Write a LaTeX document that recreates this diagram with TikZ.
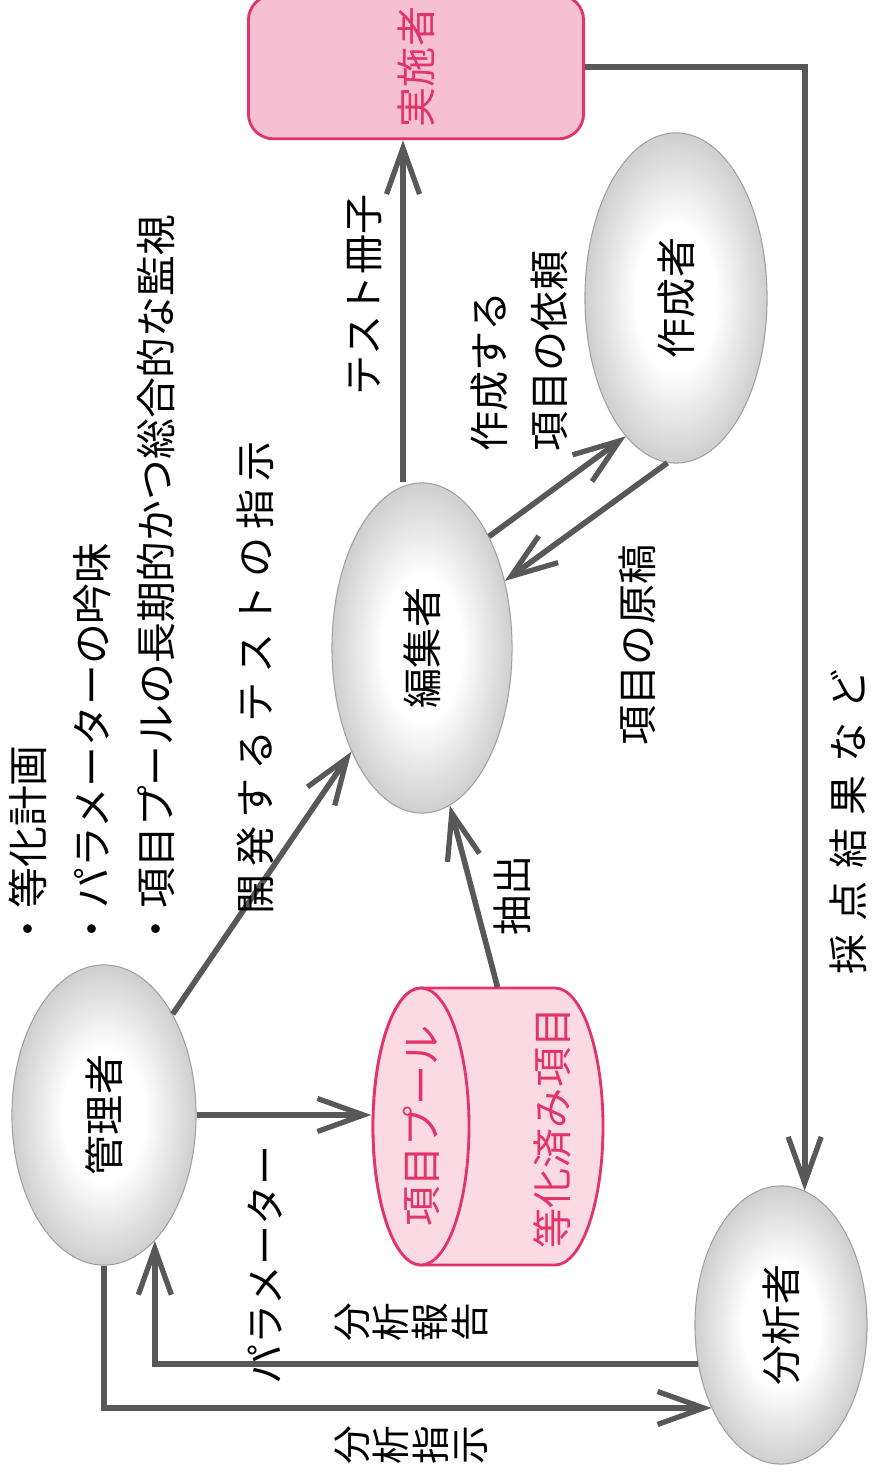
\documentclass[tikz,border=0pt]{standalone}
\usepackage{fontspec}
\usepackage{graphicx}
\setmainfont{Noto Sans CJK JP}
\newfontfamily\widejp[LetterSpace=20]{Noto Sans CJK JP}
\newfontfamily\widerjp[LetterSpace=32]{Noto Sans CJK JP}
\usetikzlibrary{shapes.geometric, arrows.meta, calc}
\definecolor{linegray}{RGB}{88,88,88}
\definecolor{eggedge}{RGB}{160,160,160}
\definecolor{eggmid}{RGB}{200,200,200}
\definecolor{poolpink}{RGB}{251,218,228}
\definecolor{boxpink}{RGB}{246,192,210}
\definecolor{rosered}{RGB}{226,52,104}
\pgfdeclareradialshading{egg}{\pgfpoint{0bp}{0bp}}{color(0bp)=(white); color(11bp)=(white); color(27bp)=(eggmid); color(36bp)=(eggedge); color(50bp)=(eggedge)}

\begin{document}
\begin{tikzpicture}[x=0.01cm, y=-0.01cm,
  every node/.style={font=\fontsize{11.4}{17}\selectfont},
  actor/.style={ellipse, shade, shading=egg, draw=eggedge, line width=0.3pt, inner sep=0pt},
  flow/.style={draw=linegray, line width=1.6pt, -{Straight Barb[length=4.6mm, width=3.3mm, line width=1.5pt]}},
  side/.style={rotate=90, inner sep=0pt}]
  \useasboundingbox (0,0) rectangle (873,1477);

  % Roles
  \node[rectangle, rounded corners=2.5mm, draw=rosered, fill=boxpink, line width=0.8pt,
        minimum width=3.35cm, minimum height=1.23cm, text=rosered] (jisshi) at (416,67) {\rotatebox{90}{実施者}};
  \node[actor, minimum width=1.82cm, minimum height=3.3cm] (sakusei) at (676,298) {\rotatebox{90}{作成者}};
  \node[actor, minimum width=1.8cm, minimum height=3.3cm] (henshu) at (422,648) {\rotatebox{90}{編集者}};
  \node[actor, minimum width=1.84cm, minimum height=3.0cm] (kanri) at (104,1115) {\rotatebox{90}{管理者}};
  \node[actor, minimum width=1.72cm, minimum height=2.78cm] (bunseki) at (781,1325) {\rotatebox{90}{分析者}};

  % Item pool
  \node[minimum width=2.31cm, minimum height=2.77cm, inner sep=0pt] (pool) at (487.5,1126.5) {};
  \draw[draw=rosered, fill=poolpink, line width=0.8pt] (421,988) -- (555,988)
    arc[start angle=-90, end angle=90, x radius=48, y radius=138.5] -- (421,1265)
    arc[start angle=90, end angle=270, x radius=48, y radius=138.5] -- cycle;
  \draw[draw=rosered, fill=poolpink, line width=0.8pt] (421,1126.5) ellipse[x radius=48, y radius=138.5];
  \node[side, text=rosered] (pooltop) at (421,1126) {項目プール};
  \node[side, text=rosered] (poolbody) at (552,1128) {等化済み項目};

  % Flows
  \draw[flow] (kanri) -- (henshu);
  \draw[flow] (kanri) -- (kanri -| pool.west);
  \draw[flow] ($(pool.north)+(10,0)$) -- (henshu.-80);
  \coordinate (booklet) at ($(jisshi.south)+(-13,0)$);
  \draw[flow] (henshu.north -| booklet) -- (booklet);
  \draw[flow] (henshu.59) -- (sakusei.250);
  \draw[flow] (sakusei.267) -- (henshu.39);
  \draw[flow] (jisshi.east) -| (bunseki.80);
  \draw[flow] (bunseki.205) -| (kanri.-68);
  \draw[flow] (kanri.south) |- (bunseki.230);

  % Labels
  \node[side, align=left, anchor=north west, font=\fontsize{11.6}{18.2}\selectfont] (duties) at (8,950)
    {・等化計画\\・パラメーターの吟味\\・項目プールの長期的かつ総合的な監視};
  \node[side, font=\widejp\fontsize{11.4}{17}\selectfont] (order) at (255,678) {開発するテストの指示};
  \node[side] (book) at (365,295) {テスト冊子};
  \node[side, align=left, anchor=north west] (request) at (470,452) {作成する\\項目の依頼};
  \node[side] (draft) at (637,645) {項目の原稿};
  \node[side] (pick) at (512,895) {抽出};
  \node[side] (param) at (265,1265) {パラメーター};
  \node[side, align=center, font=\fontsize{11}{11.2}\selectfont] (report) at (411,1322) {分\\析\\報\\告};
  \node[side, align=center, font=\fontsize{11}{11.2}\selectfont] (instr) at (411,1445) {分\\析\\指\\示};
  \node[side, font=\widerjp\fontsize{11.4}{17}\selectfont] (scores) at (848,822) {採点結果など};
\end{tikzpicture}
\end{document}
